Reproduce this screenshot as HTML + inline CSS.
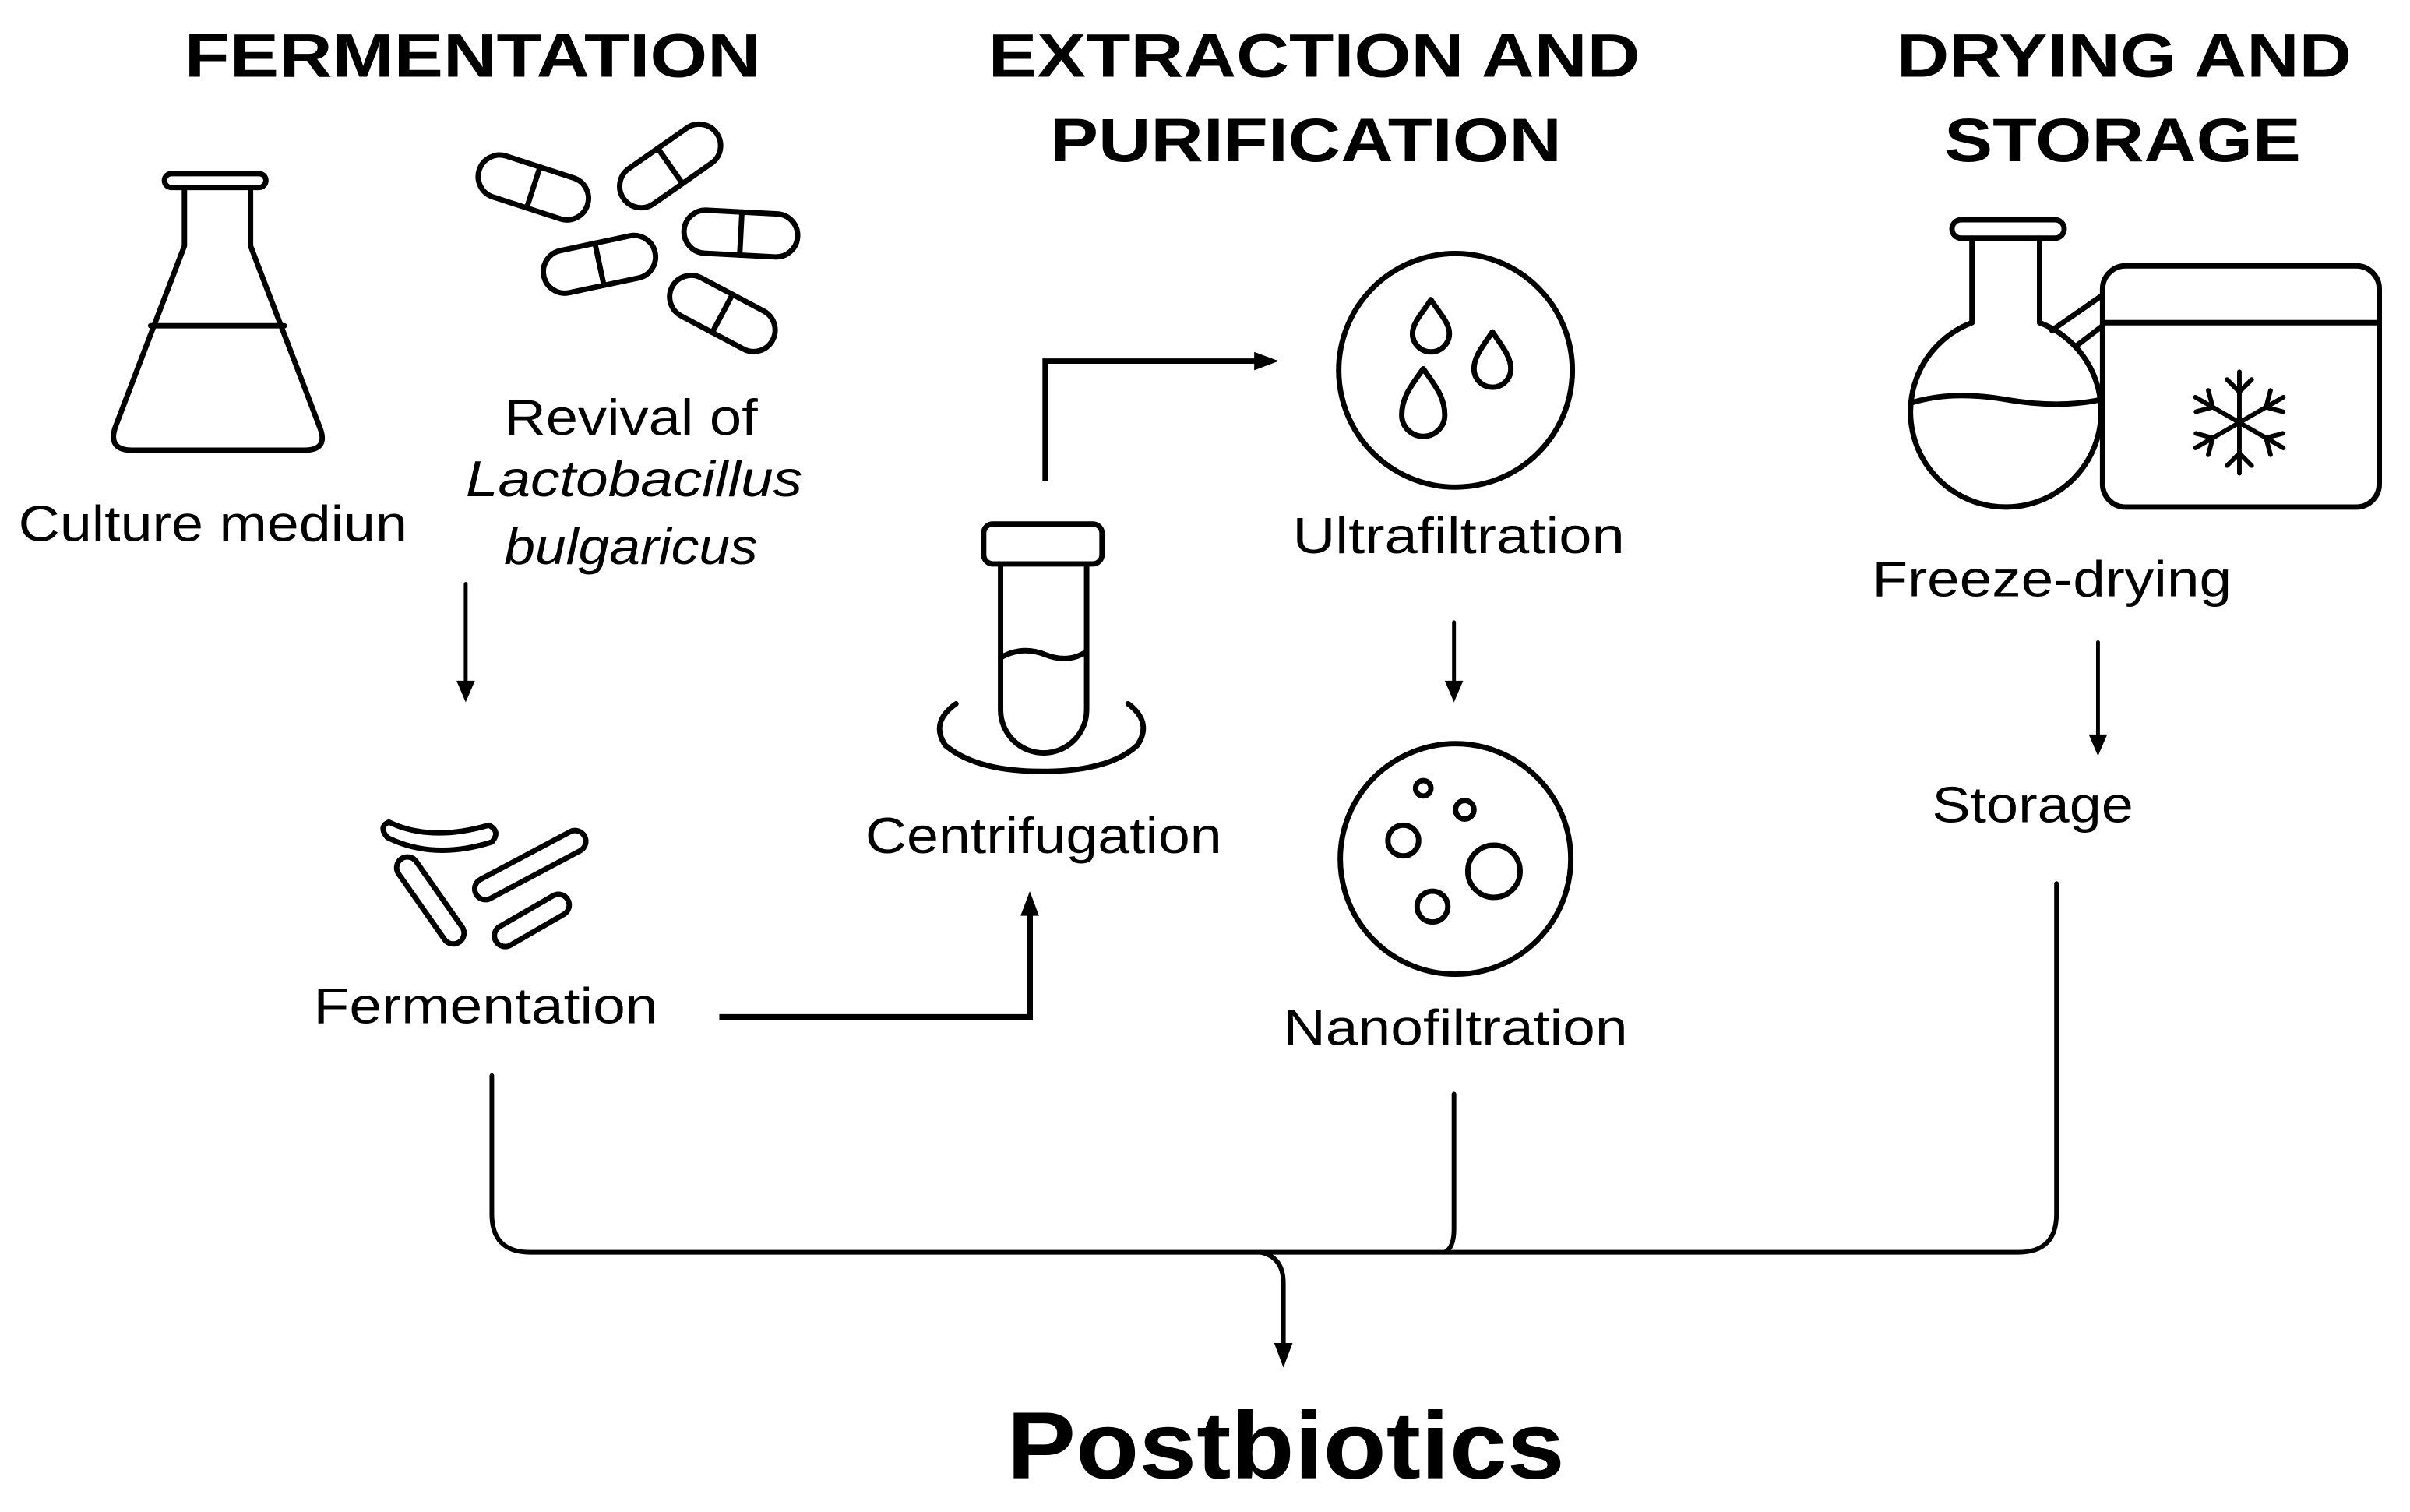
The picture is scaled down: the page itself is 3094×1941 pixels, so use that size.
<!DOCTYPE html>
<html><head><meta charset="utf-8"><style>html,body{margin:0;padding:0;background:#fff}svg{display:block}</style></head>
<body>
<svg width="3094" height="1941" viewBox="0 0 1568 984" preserveAspectRatio="none" xmlns="http://www.w3.org/2000/svg">
<rect width="1568" height="984" fill="#fff"/>
<g font-family="Liberation Sans, Arial, sans-serif" fill="#000">
<text x="120" y="50" font-weight="bold" font-size="40" textLength="375" lengthAdjust="spacingAndGlyphs">FERMENTATION</text>
<text x="643" y="50" font-weight="bold" font-size="40" textLength="424" lengthAdjust="spacingAndGlyphs">EXTRACTION AND</text>
<text x="683" y="105" font-weight="bold" font-size="40" textLength="333" lengthAdjust="spacingAndGlyphs">PURIFICATION</text>
<text x="1234" y="50" font-weight="bold" font-size="40" textLength="296" lengthAdjust="spacingAndGlyphs">DRYING AND</text>
<text x="1265" y="105" font-weight="bold" font-size="40" textLength="232" lengthAdjust="spacingAndGlyphs">STORAGE</text>
<text x="12" y="352" font-size="33" textLength="253" lengthAdjust="spacingAndGlyphs">Culture mediun</text>
<text x="328" y="283" font-size="33" textLength="165" lengthAdjust="spacingAndGlyphs">Revival of</text>
<text x="303" y="323" font-size="33" font-style="italic" textLength="219" lengthAdjust="spacingAndGlyphs">Lactobacillus</text>
<text x="328" y="367" font-size="33" font-style="italic" textLength="165" lengthAdjust="spacingAndGlyphs">bulgaricus</text>
<text x="204" y="666" font-size="33" textLength="224" lengthAdjust="spacingAndGlyphs">Fermentation</text>
<text x="563" y="555" font-size="33" textLength="232" lengthAdjust="spacingAndGlyphs">Centrifugation</text>
<text x="841" y="360" font-size="33" textLength="216" lengthAdjust="spacingAndGlyphs">Ultrafiltration</text>
<text x="835" y="680" font-size="33" textLength="224" lengthAdjust="spacingAndGlyphs">Nanofiltration</text>
<text x="1218" y="388" font-size="33" textLength="234" lengthAdjust="spacingAndGlyphs">Freeze-drying</text>
<text x="1257" y="535" font-size="33" textLength="131" lengthAdjust="spacingAndGlyphs">Storage</text>
<text x="655" y="962" font-size="62" font-weight="bold" textLength="363" lengthAdjust="spacingAndGlyphs">Postbiotics</text>
</g>
<g fill="none" stroke="#000" stroke-width="3.5" stroke-linejoin="round" stroke-linecap="round">
<rect x="107" y="113" width="66" height="9" rx="4.5"/>
<path d="M120 122 V160 L75 278 Q70 293 86 293 H198 Q214 293 208 278 L163 160 V122"/>
<line x1="98" y1="212" x2="185" y2="212"/>
<g transform="translate(347,122) rotate(18)"><rect x="-37" y="-14" width="74" height="28" rx="14"/><line x1="0" y1="-14" x2="0" y2="14"/></g>
<g transform="translate(436,108) rotate(-35)"><rect x="-37" y="-14" width="74" height="28" rx="14"/><line x1="0" y1="-14" x2="0" y2="14"/></g>
<g transform="translate(390,172) rotate(-12)"><rect x="-37" y="-14" width="74" height="28" rx="14"/><line x1="0" y1="-14" x2="0" y2="14"/></g>
<g transform="translate(482,152) rotate(3)"><rect x="-37" y="-14" width="74" height="28" rx="14"/><line x1="0" y1="-14" x2="0" y2="14"/></g>
<g transform="translate(470,204) rotate(28)"><rect x="-37" y="-14" width="74" height="28" rx="14"/><line x1="0" y1="-14" x2="0" y2="14"/></g>
<path d="M253 535 Q280 548 318 537 Q326 541 320 548 Q282 560 252 545 Q246 538 253 535 Z"/>
<g transform="translate(280,586) rotate(55)"><rect x="-33" y="-7" width="66" height="14" rx="7"/></g>
<g transform="translate(345,563) rotate(-28)"><rect x="-40" y="-7" width="80" height="14" rx="7"/></g>
<g transform="translate(346,599) rotate(-30)"><rect x="-27" y="-7" width="54" height="14" rx="7"/></g>
<rect x="640" y="341" width="77" height="26" rx="6"/>
<path d="M651 367 V462 A28 28 0 0 0 707 462 V367"/>
<path d="M651 428 Q665 420 680 426 Q695 432 707 424"/>
<path d="M622 458 Q605 470 615 485 Q635 502 678 502 Q722 502 740 485 Q750 470 734 458"/>
<circle cx="947" cy="241" r="76"/>
<path d="M931 195 C936 203 943 210 943 217 A12 12 0 0 1 919 217 C919 210 926 203 931 195 Z"/>
<path d="M971 216 C977 225 983 232 983 240 A12 12 0 0 1 959 240 C959 232 965 225 971 216 Z"/>
<path d="M926 240 C933 250 940 258 940 270 A14 14 0 0 1 912 270 C912 258 919 250 926 240 Z"/>
<circle cx="947" cy="559" r="75"/>
<circle cx="926" cy="513" r="5"/>
<circle cx="953" cy="527" r="6"/>
<circle cx="913" cy="547" r="10"/>
<circle cx="972" cy="567" r="17"/>
<circle cx="932" cy="590" r="10"/>
<rect x="1270" y="143" width="73" height="12" rx="6"/>
<path d="M1283 155 V210 A62 62 0 1 0 1327 210 V155"/>
<path d="M1244 262 Q1270 254 1305 260 Q1340 266 1367 260"/>
<path d="M1335 215 L1368 192 M1351 225 L1368 212"/>
<rect x="1368" y="173" width="180" height="157" rx="15" fill="#fff"/>
<line x1="1368" y1="210" x2="1548" y2="210"/>
<g transform="translate(1457,275)" stroke-width="3">
<g id="arm"><line x1="0" y1="0" x2="0" y2="-33"/><path d="M-8 -28 L0 -20 L8 -28"/></g>
<use href="#arm" transform="rotate(60)"/><use href="#arm" transform="rotate(120)"/><use href="#arm" transform="rotate(180)"/><use href="#arm" transform="rotate(240)"/><use href="#arm" transform="rotate(300)"/>
</g>
<line x1="303" y1="380" x2="303" y2="445" stroke-width="2.5"/>
<line x1="946" y1="405" x2="946" y2="445" stroke-width="2.5"/>
<line x1="1365" y1="418" x2="1365" y2="480" stroke-width="2.5"/>
<polyline points="468,662 670,662 670,595" stroke-width="4" stroke-linejoin="miter" stroke-linecap="butt"/>
<polyline points="680,313 680,235 818,235" stroke-width="3.5" stroke-linejoin="miter" stroke-linecap="butt"/>
<path d="M320 700 V790 Q320 815 345 815 H1313 Q1338 815 1338 790 V575" stroke-width="3"/>
<path d="M946 712 V800 Q946 812 940 815" stroke-width="3"/>
<path d="M820 815 Q835 818 835 835 V878" stroke-width="3"/>
</g>
<g fill="#000">
<polygon points="297,443 309,443 303,457"/>
<polygon points="940,443 952,443 946,457"/>
<polygon points="1359,478 1371,478 1365,492"/>
<polygon points="664,596 676,596 670,580"/>
<polygon points="816,229 816,241 832,235"/>
<polygon points="829,874 841,874 835,890"/>
</g>
</svg>
</body></html>
